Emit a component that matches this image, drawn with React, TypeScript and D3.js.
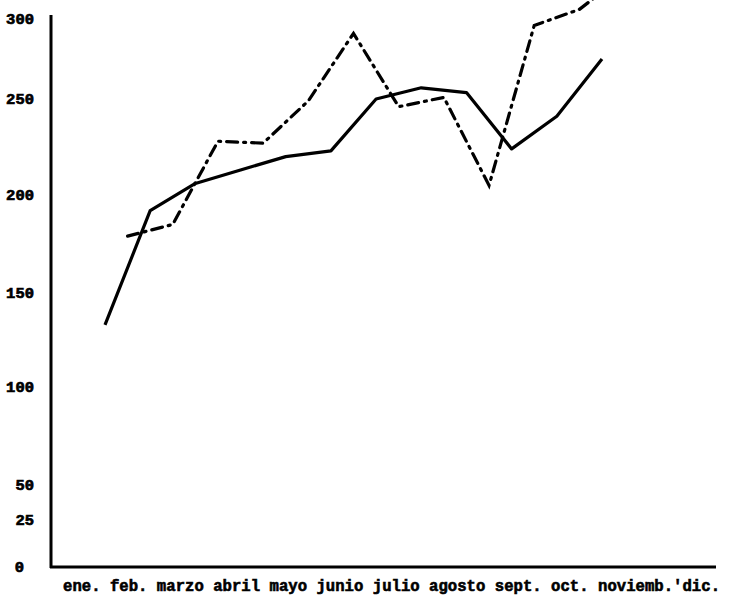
import React from "react";
import * as d3 from "d3";

// monthly values (two series, solid and dash-dot)
const months = ["ene.", "feb.", "marzo", "abril", "mayo", "junio", "julio", "agosto", "sept.", "oct.", "noviemb.", "dic."];
const solidValues = [133, 192, 206, 213, 220, 223, 250, 257, 254, 224, 241, 275];
const dashedValues = [179, 185, 228, 227, 249, 291, 246, 251, 205, 296, 306, 328];
const yTicks = [0, 25, 50, 100, 150, 200, 250, 300];

const W = 730;
const H = 602;
const axisLeft = 51;
const axisRight = 716;
const axisTop = 15;
const font = "'Liberation Mono', 'DejaVu Sans Mono', monospace";

const App = () => {
  // the hand-drawn scale is uneven, so the y scale is piecewise
  const y = d3
    .scaleLinear()
    .domain(yTicks)
    .range([567, 520, 485, 387, 293, 195, 99, 19]);
  const x = d3.scalePoint().domain(months).range([105, 602]);
  const shift = x.step() / 2;

  const solidLine = d3
    .line<number>()
    .x((d, i) => x(months[i]) as number)
    .y(d => y(d));
  const dashedLine = d3
    .line<number>()
    .x((d, i) => (x(months[i]) as number) + shift)
    .y(d => y(d));

  const xLabel = months.map((m, i) => (i === 10 ? m + "'" : i === months.length - 1 ? m : m + " ")).join("");

  return (
    <svg
      width={W}
      height={H}
      style={{ position: "absolute", left: 0, top: 0, background: "#fff" }}
    >
      <rect width={W} height={H} fill="#fff" />
      <line x1={axisLeft} x2={axisLeft} y1={axisTop} y2={y(0) + 1} stroke="#000" strokeWidth={3} />
      <line x1={axisLeft - 1} x2={axisRight} y1={y(0)} y2={y(0)} stroke="#000" strokeWidth={3} />

      {yTicks.map(t => (
        <text
          key={t}
          x={t === 0 ? 24 : 34}
          y={y(t)}
          dy="0.35em"
          textAnchor="end"
          fontFamily={font}
          fontWeight="bold"
          fontSize={15.5}
          fill="#000"
          stroke="#000"
          strokeWidth={0.7}
        >
          {t}
        </text>
      ))}

      <text
        x={63}
        y={591}
        textLength={657}
        lengthAdjust="spacing"
        fontFamily={font}
        fontWeight="bold"
        fontSize={15.6}
        fill="#000"
        stroke="#000"
        strokeWidth={0.6}
        style={{ whiteSpace: "pre" }}
      >
        {xLabel}
      </text>

      <path d={solidLine(solidValues) || ""} fill="none" stroke="#000" strokeWidth={3.2} strokeLinejoin="round" />
      <path
        d={dashedLine(dashedValues) || ""}
        fill="none"
        stroke="#000"
        strokeWidth={3.2}
        strokeDasharray="11 6 2 6"
        strokeLinecap="round"
      />
    </svg>
  );
};

export default App;
